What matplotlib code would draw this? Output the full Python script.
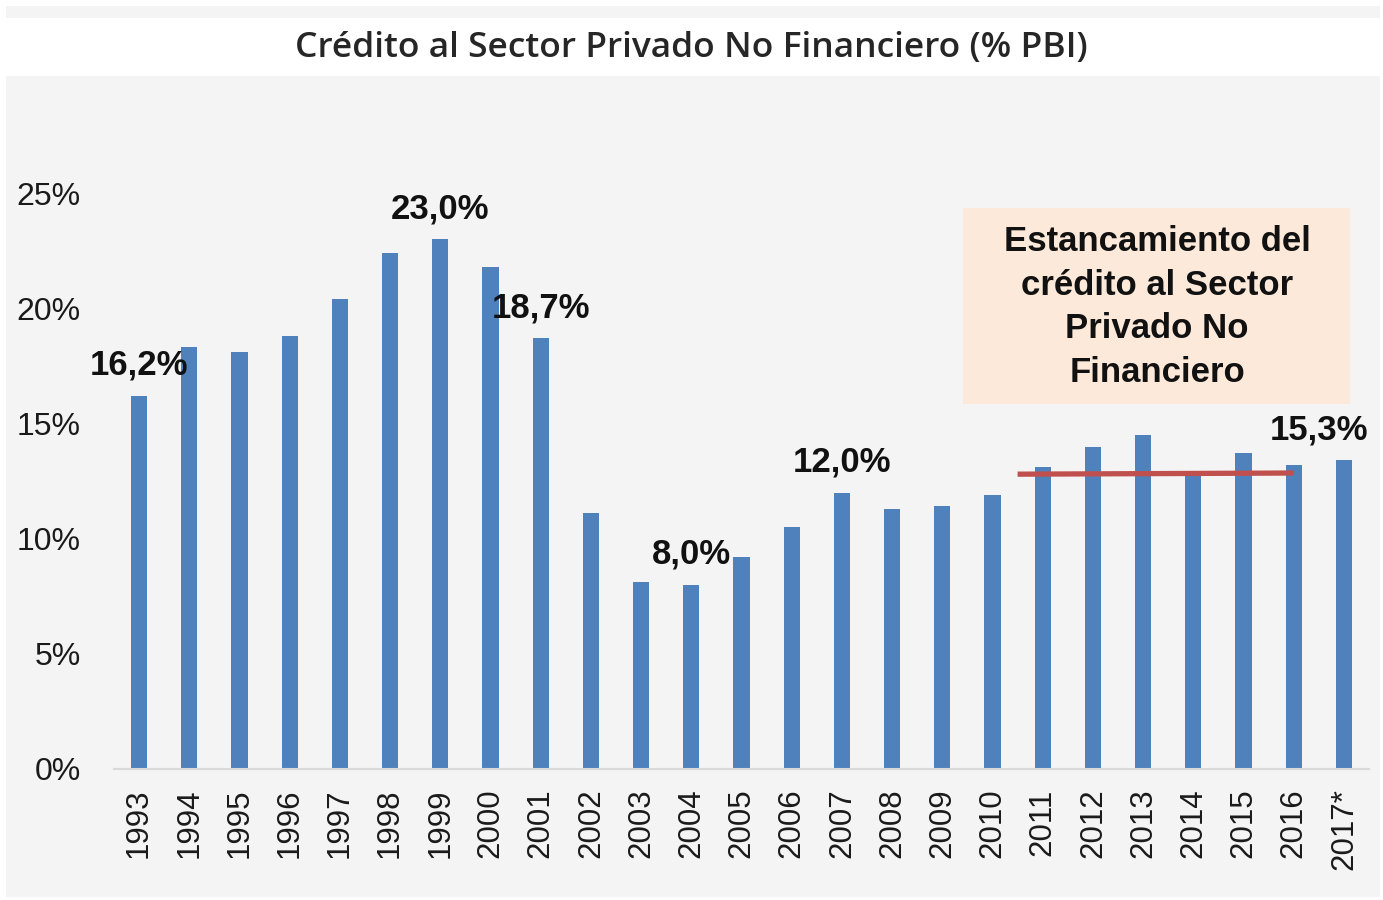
import matplotlib
matplotlib.use("Agg")
import matplotlib.pyplot as plt
from matplotlib.patches import Rectangle

years = ["1993", "1994", "1995", "1996", "1997", "1998", "1999", "2000", "2001",
         "2002", "2003", "2004", "2005", "2006", "2007", "2008", "2009", "2010",
         "2011", "2012", "2013", "2014", "2015", "2016", "2017*"]
credit_pct = [16.2, 18.3, 18.1, 18.8, 20.4, 22.4, 23.0, 21.8, 18.7,
              11.1, 8.1, 8.0, 9.2, 10.5, 12.0, 11.3, 11.4, 11.9,
              13.1, 14.0, 14.5, 12.8, 13.7, 13.2, 13.4]

# highlighted years and the text shown above them
label_years = ["1993", "1999", "2001", "2004", "2007", "2017*"]
label_texts = ["16,2%", "23,0%", "18,7%", "8,0%", "12,0%", "15,3%"]
label_dx = [0.0, 0.0, 0.0, 0.0, 0.0, -0.5]

trend_years = ["2011", "2016"]
trend_level = [12.8, 12.85]

yticks = [0, 5, 10, 15, 20, 25]

bar_color = "#4f81bd"
font = "Liberation Sans"

fig = plt.figure(figsize=(13.83, 9.0), dpi=100)
fig.patch.set_facecolor("white")

# grey panel with a white title strip and the note box
fig.patches.append(Rectangle((6 / 1383, 3 / 900), 1374 / 1383, 891 / 900,
                             transform=fig.transFigure, facecolor="#f4f4f4",
                             edgecolor="none", zorder=0))
fig.patches.append(Rectangle((6 / 1383, 1 - 76 / 900), 1374 / 1383, 58 / 900,
                             transform=fig.transFigure, facecolor="white",
                             edgecolor="none", zorder=0.5))
fig.patches.append(Rectangle((963 / 1383, 1 - 404 / 900), 387 / 1383, 196 / 900,
                             transform=fig.transFigure, facecolor="#fde9d9",
                             edgecolor="none", zorder=0.5))
fig.text(0.5, 1 - 48 / 900, "Crédito al Sector Privado No Financiero (% PBI)",
         ha="center", va="center", fontsize=25.5, family="Open Sans",
         fontweight="semibold", color="#262626", zorder=2)

ax = fig.add_axes([114 / 1383, 1 - 769 / 900, (1369 - 114) / 1383, (769 - 78) / 900])
ax.set_facecolor("none")
ax.set_zorder(2)

x = list(range(len(years)))
ax.bar(x, credit_pct, width=0.32, color=bar_color, zorder=2)

ax.set_xlim(-0.5, len(years) - 0.5)
ax.set_ylim(0, 30)
ax.set_yticks(yticks)
ax.set_yticklabels([f"{t}%" for t in yticks], fontsize=23, family=font,
                   color="#1a1a1a")
ax.set_xticks(x)
ax.set_xticklabels(years, rotation=90, fontsize=22.5, family=font, color="#1a1a1a")
ax.tick_params(axis="both", length=0)
ax.tick_params(axis="y", pad=24)
ax.tick_params(axis="x", pad=14)

for side in ["top", "right", "left"]:
    ax.spines[side].set_visible(False)
ax.spines["bottom"].set_color("#d9d9d9")
ax.spines["bottom"].set_linewidth(1.5)

for yr, txt, dx in zip(label_years, label_texts, label_dx):
    i = years.index(yr)
    ax.annotate(txt, (i + dx, credit_pct[i]), xytext=(0, 22),
                textcoords="offset points", ha="center", va="center",
                fontsize=25, fontweight="bold", family=font, color="#111111",
                zorder=4)

# flat trend over the recent years
t0, t1 = years.index(trend_years[0]), years.index(trend_years[1])
ax.plot([t0 - 0.5, t1], trend_level, color="#c0504d", linewidth=3.8,
        solid_capstyle="butt", zorder=3)

fig.text(1157 / 1383, 1 - 307 / 900,
         "Estancamiento del\ncrédito al Sector\nPrivado No\nFinanciero",
         ha="center", va="center", fontsize=25, fontweight="bold",
         family=font, color="#111111", linespacing=1.4, zorder=5)

fig.savefig("out.png", dpi=100)
